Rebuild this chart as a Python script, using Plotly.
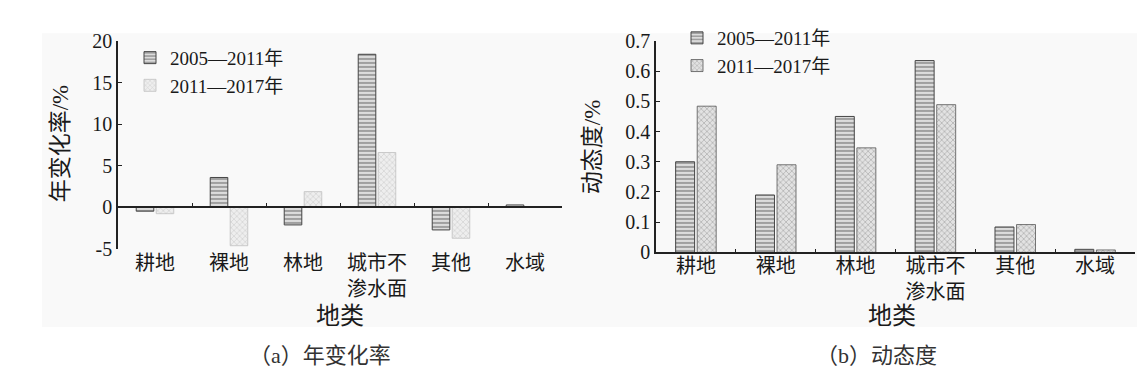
import plotly.graph_objects as go

# ---- data ----
categories = ["耕地", "裸地", "林地", "城市不<br>渗水面", "其他", "水域"]
series_names = ["2005—2011年", "2011—2017年"]
rate_2005_2011 = [-0.45, 3.6, -2.1, 18.4, -2.7, 0.3]
rate_2011_2017 = [-0.75, -4.6, 1.9, 6.6, -3.7, 0.1]
dyn_2005_2011 = [0.30, 0.19, 0.45, 0.635, 0.084, 0.010]
dyn_2011_2017 = [0.484, 0.29, 0.346, 0.489, 0.092, 0.008]
rate_ticks = [-5, 0, 5, 10, 15, 20]
dyn_ticks = [0, 0.1, 0.2, 0.3, 0.4, 0.5, 0.6, 0.7]

W, H = 1145, 380
FONT = "'Liberation Serif', 'Noto Sans CJK SC', serif"
TXT = "#1a1a1a"

def px(x):
    return x / W

def py(y):
    return 1 - y / H

stripe = dict(shape="-", fgcolor="#555555", bgcolor="#dcdcdc", size=4, solidity=0.45)
hatch_light = dict(shape="x", fgcolor="#b0b0b0", bgcolor="#eeeeee", size=4, solidity=0.3)
hatch_dark = dict(shape="x", fgcolor="#6e6e6e", bgcolor="#e2e2e2", size=4, solidity=0.3)

fig = go.Figure()

# left panel
fig.add_trace(go.Bar(x=categories, y=rate_2005_2011, name=series_names[0],
                     xaxis="x", yaxis="y", legend="legend",
                     marker=dict(color="#dcdcdc", pattern=stripe,
                                 line=dict(color="#444444", width=1))))
fig.add_trace(go.Bar(x=categories, y=rate_2011_2017, name=series_names[1],
                     xaxis="x", yaxis="y", legend="legend",
                     marker=dict(color="#eeeeee", pattern=hatch_light,
                                 line=dict(color="#c0c0c0", width=0.8))))
# invisible helper trace for the zero-line axis
fig.add_trace(go.Scatter(x=categories, y=[0] * len(categories), xaxis="x3", yaxis="y",
                         mode="markers", marker=dict(opacity=0), showlegend=False,
                         hoverinfo="skip"))

# right panel
fig.add_trace(go.Bar(x=categories, y=dyn_2005_2011, name=series_names[0],
                     xaxis="x2", yaxis="y2", legend="legend2",
                     marker=dict(color="#dcdcdc", pattern=stripe,
                                 line=dict(color="#444444", width=1))))
fig.add_trace(go.Bar(x=categories, y=dyn_2011_2017, name=series_names[1],
                     xaxis="x2", yaxis="y2", legend="legend2",
                     marker=dict(color="#e2e2e2", pattern=hatch_dark,
                                 line=dict(color="#555555", width=0.8))))

tickfont = dict(family=FONT, size=20, color=TXT)

left_dom_y = [py(244.2), py(23.3)]
right_dom_y = [py(247.7), py(23.3)]
zero_pos = left_dom_y[0] + (left_dom_y[1] - left_dom_y[0]) * (5 / 25)

def ann(text, x, y, size, angle=0, color=TXT):
    return dict(text=text, x=px(x), y=py(y), xref="paper", yref="paper",
                xanchor="center", yanchor="middle", textangle=angle,
                showarrow=False, font=dict(family=FONT, size=size, color=color))

fig.update_layout(
    width=W, height=H,
    margin=dict(l=0, r=0, t=0, b=0),
    paper_bgcolor="white",
    plot_bgcolor="rgba(0,0,0,0)",
    barmode="group", bargap=0.46, bargroupgap=0.12,
    font=dict(family=FONT, size=20, color=TXT),
    xaxis=dict(domain=[px(110), px(554)], anchor="y", type="category",
               categoryorder="array", categoryarray=categories,
               range=[-0.5, 5.5], showline=False, ticks="", showgrid=False,
               tickfont=tickfont, ticklabelstandoff=0, zeroline=False),
    xaxis3=dict(overlaying="x", anchor="free", position=zero_pos, type="category",
                categoryorder="array", categoryarray=categories,
                range=[-0.5, 5.5], showline=True, linecolor="#222", linewidth=1.5,
                tickson="boundaries", ticks="inside", ticklen=4, tickcolor="#222",
                showticklabels=False, showgrid=False, zeroline=False),
    yaxis=dict(domain=left_dom_y, anchor="x", range=[-5, 20], tickvals=rate_ticks,
               ticktext=[str(v) for v in rate_ticks],
               showline=True, linecolor="#222", linewidth=1.5, ticks="inside",
               ticklen=4, tickcolor="#222", showgrid=False, zeroline=False,
               tickfont=tickfont),
    xaxis2=dict(domain=[px(648), px(1127)], anchor="y2", type="category",
                categoryorder="array", categoryarray=categories,
                range=[-0.5, 5.5], showline=True, linecolor="#222", linewidth=1.5,
                tickson="boundaries", ticks="inside", ticklen=4, tickcolor="#222",
                showgrid=False, tickfont=tickfont, zeroline=False,
                ticklabelstandoff=-5),
    yaxis2=dict(domain=right_dom_y, anchor="x2", range=[0, 0.7], tickvals=dyn_ticks,
                ticktext=[f"{v:g}" for v in dyn_ticks],
                showline=True, linecolor="#222", linewidth=1.5, ticks="inside",
                ticklen=4, tickcolor="#222", showgrid=False, zeroline=False,
                tickfont=tickfont),
    legend=dict(x=px(122), y=py(21), xanchor="left", yanchor="top",
                bgcolor="rgba(0,0,0,0)", font=dict(family=FONT, size=19, color=TXT),
                tracegroupgap=0, itemwidth=30),
    legend2=dict(x=px(669), y=py(0), xanchor="left", yanchor="top",
                 bgcolor="rgba(0,0,0,0)", font=dict(family=FONT, size=19, color=TXT),
                 tracegroupgap=0, itemwidth=30),
    shapes=[dict(type="rect", xref="paper", yref="paper", layer="below",
                 x0=px(34), x1=px(1135), y0=py(327), y1=py(15),
                 fillcolor="#f9f9f9", line=dict(width=0))],
    annotations=[
        ann("年变化率/%", 52, 132, 23, -90),
        ann("动态度/%", 584, 136, 23, -90),
        ann("地类", 332, 315, 24),
        ann("地类", 884, 315, 24),
        ann("（a）年变化率", 312, 357, 22, color="#333"),
        ann("（b）动态度", 868, 357, 22, color="#333"),
    ],
)

fig.write_html("out.html")
